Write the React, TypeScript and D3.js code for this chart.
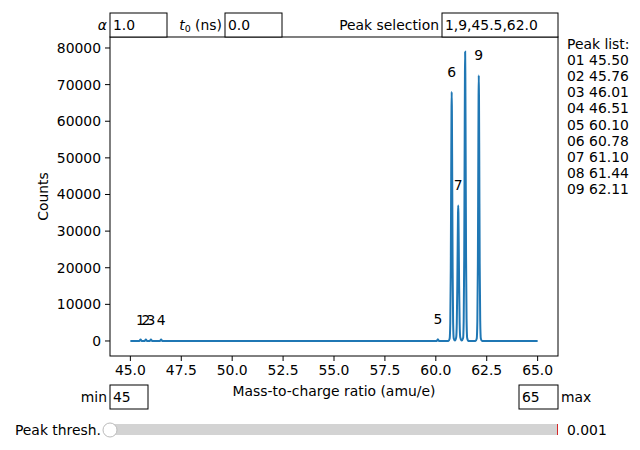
import * as d3 from 'd3';

// spectrum samples (mass-to-charge, counts)
const mzValues = [
  45.0, 45.44, 45.5, 45.56, 45.7, 45.76, 45.82, 45.95, 46.01, 46.07, 46.45, 46.51, 46.57,
  60.04, 60.1, 60.16,
  60.62, 60.68, 60.71, 60.735, 60.755, 60.77, 60.78, 60.79, 60.805, 60.825, 60.85, 60.88, 60.94,
  61.0, 61.03, 61.055, 61.075, 61.09, 61.1, 61.11, 61.125, 61.145, 61.17, 61.2, 61.27,
  61.34, 61.37, 61.395, 61.415, 61.43, 61.44, 61.45, 61.465, 61.485, 61.51, 61.54, 61.6,
  61.95, 62.01, 62.04, 62.065, 62.085, 62.1, 62.11, 62.12, 62.135, 62.155, 62.18, 62.21, 62.27,
  65.0,
];
const countValues = [
  0, 0, 400, 0, 0, 400, 0, 0, 400, 0, 0, 400, 0,
  0, 500, 0,
  0, 700, 5000, 20000, 45000, 63000, 68000, 63000, 45000, 20000, 5000, 700, 100,
  1000, 5000, 15000, 27000, 35000, 37000, 35000, 27000, 15000, 5000, 1000, 100,
  800, 6000, 23000, 52000, 73000, 79000, 73000, 52000, 23000, 6000, 800, 0,
  0, 700, 5500, 21000, 48000, 67000, 72500, 67000, 48000, 21000, 5500, 700, 0,
  0,
];

const peakIds = ['1', '2', '3', '4', '5', '6', '7', '8', '9'];
const peakMz = [45.5, 45.76, 46.01, 46.51, 60.1, 60.78, 61.1, 61.44, 62.11];
const peakCounts = [400, 400, 400, 400, 500, 68000, 37000, 79000, 72500];

const xTicks = [45, 47.5, 50, 52.5, 55, 57.5, 60, 62.5, 65];
const yTicks = [0, 10000, 20000, 30000, 40000, 50000, 60000, 70000, 80000];

const FONT = 'DejaVu Sans, sans-serif';
const FS = 13.9;

function TextBox({ x, y, w, h, label, value, labelRight = false, italicLabel = false }: any) {
  return (
    <g>
      <rect x={x} y={y} width={w} height={h} fill="white" stroke="black" strokeWidth={1} />
      <text x={x + 3} y={y + h / 2} dominantBaseline="central" fontSize={FS}>{value}</text>
      <text
        x={labelRight ? x + w + 3 : x - 3}
        y={y + h / 2}
        dominantBaseline="central"
        textAnchor={labelRight ? 'start' : 'end'}
        fontStyle={italicLabel ? 'italic' : 'normal'}
        fontSize={FS}
      >
        {label}
      </text>
    </g>
  );
}

export default function App() {
  const left = 110, right = 558, top = 37, bottom = 356;
  const x = d3.scaleLinear().domain([44, 66]).range([left, right]);
  const y = d3.scaleLinear().domain([-4100, 83000]).range([bottom, top]);

  const line = d3
    .line<number>()
    .x((_, i) => x(mzValues[i]))
    .y((d) => y(d))
    .curve(d3.curveMonotoneX);

  const peakList = ['Peak list:', ...peakIds.map((id, i) => `0${id} ${peakMz[i].toFixed(2)}`)];

  return (
    <svg
      width={640}
      height={450}
      style={{ position: 'absolute', left: 0, top: 0, background: 'white' }}
      fontFamily={FONT}
    >
      <defs>
        <clipPath id="plot">
          <rect x={left} y={top} width={right - left} height={bottom - top} />
        </clipPath>
      </defs>

      {/* spectrum */}
      <path d={line(countValues) || ''} fill="none" stroke="#1f77b4" strokeWidth={2} clipPath="url(#plot)" />

      {/* peak labels (label 8 sits behind the selection box) */}
      {peakIds.map((id, i) => (
        <text key={id} x={x(peakMz[i])} y={y(peakCounts[i]) - 15} textAnchor="middle" fontSize={FS}>
          {id}
        </text>
      ))}

      {/* frame */}
      <rect x={left} y={top} width={right - left} height={bottom - top} fill="none" stroke="black" strokeWidth={1} />

      {/* x axis */}
      {xTicks.map((t) => (
        <g key={t}>
          <line x1={x(t)} x2={x(t)} y1={bottom} y2={bottom + 5} stroke="black" />
          <text x={x(t)} y={bottom + 9} textAnchor="middle" dominantBaseline="hanging" fontSize={FS}>
            {t.toFixed(1)}
          </text>
        </g>
      ))}
      <text x={(left + right) / 2} y={391} textAnchor="middle" dominantBaseline="central" fontSize={FS}>
        Mass-to-charge ratio (amu/e)
      </text>

      {/* y axis */}
      {yTicks.map((t) => (
        <g key={t}>
          <line x1={left - 5} x2={left} y1={y(t)} y2={y(t)} stroke="black" />
          <text x={left - 9} y={y(t)} textAnchor="end" dominantBaseline="central" fontSize={FS}>
            {t}
          </text>
        </g>
      ))}
      <text
        transform={`translate(43,${(top + bottom) / 2}) rotate(-90)`}
        textAnchor="middle"
        dominantBaseline="central"
        fontSize={FS}
      >
        Counts
      </text>

      {/* top controls */}
      <TextBox x={110} y={13} w={57} h={24} label="α" value="1.0" italicLabel />
      <g>
        <rect x={225} y={13} width={57} height={24} fill="white" stroke="black" />
        <text x={228} y={25} dominantBaseline="central" fontSize={FS}>0.0</text>
        <text x={222} y={25} dominantBaseline="central" textAnchor="end" fontSize={FS}>
          <tspan fontStyle="italic">t</tspan>
          <tspan fontSize={9.5} dy={3}>0</tspan>
          <tspan dy={-3}> (ns)</tspan>
        </text>
      </g>
      <TextBox x={442} y={13} w={116} h={24} label="Peak selection" value="1,9,45.5,62.0" />

      {/* peak list */}
      {peakList.map((s, i) => (
        <text key={s} x={567} y={44 + i * 16.1} dominantBaseline="central" fontSize={FS}>
          {s}
        </text>
      ))}

      {/* range boxes */}
      <TextBox x={110} y={385} w={38} h={24} label="min" value="45" />
      <TextBox x={519} y={385} w={39} h={24} label="max" value="65" labelRight />

      {/* threshold slider */}
      <rect x={110} y={424} width={448} height={11} fill="#d3d3d3" />
      <line x1={557.5} x2={557.5} y1={424} y2={435} stroke="#d62728" strokeWidth={1} />
      <circle cx={110} cy={430} r={7} fill="white" stroke="#bbbbbb" strokeWidth={1} />
      <text x={101} y={430} textAnchor="end" dominantBaseline="central" fontSize={FS}>Peak thresh.</text>
      <text x={567} y={430} dominantBaseline="central" fontSize={FS}>0.001</text>
    </svg>
  );
}
